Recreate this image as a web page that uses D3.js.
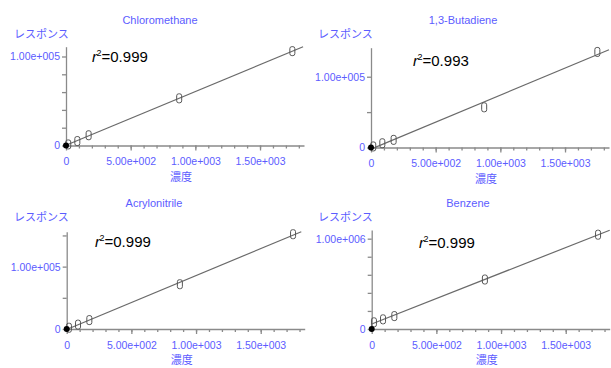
<!DOCTYPE html>
<html>
<head>
<meta charset="utf-8">
<script src="https://cdn.jsdelivr.net/npm/d3@7"></script>
<style>
  body { margin: 0; background: #fff; }
  svg { display: block; }
  .tick text, .lbl { font-family: "Liberation Sans", Arial, sans-serif; fill: #5c5cff; }
  .jp { font-family: "Noto Sans CJK JP", sans-serif; fill: #5c5cff; }
</style>
</head>
<body>
<div id="chart"></div>
<script>
// concentrations of the calibration standards
const conc = [17.5, 87.5, 175, 875, 1750];

// responses per compound
const compounds = ["Chloromethane", "1,3-Butadiene", "Acrylonitrile", "Benzene"];
const chloromethane = [1200, 5000, 11500, 53000, 106000];
const butadiene = [1500, 6000, 10800, 56800, 135000];
const acrylonitrile = [2000, 7000, 14300, 71800, 152000];
const benzene = [74000, 107000, 143000, 548000, 1044000];
const r2 = ["0.999", "0.993", "0.999", "0.999"];

// axis ticks
const xMajor = [0, 500, 1000, 1500];
const xTickLabels = ["0", "5.00e+002", "1.00e+003", "1.50e+003"];
const yLabelValues = [[0, 1e5], [0, 1e5], [0, 1e5], [0, 1e6]];
const yTickLabels = [["0", "1.00e+005"], ["0", "1.00e+005"], ["0", "1.00e+005"], ["0", "1.00e+006"]];
const yMinorStep = [2e4, 5e4, 5e4, 2e5];
const yMax = [1.11e5, 1.41e5, 1.56e5, 1.096e6];

const series = [chloromethane, butadiene, acrylonitrile, benzene];

// panel layout (origin, top of y axis, title/label spots)
const panels = [
  { ox: 66, oy: 145.5, top: 46.7, titleX: 160, titleY: 24, resX: 14, resY: 38, r2X: 92, r2Y: 62 },
  { ox: 371, oy: 147.5, top: 47.7, titleX: 463, titleY: 24, resX: 318, resY: 38, r2X: 413, r2Y: 66 },
  { ox: 66.7, oy: 329, top: 231.7, titleX: 154, titleY: 207, resX: 14, resY: 221, r2X: 95, r2Y: 247 },
  { ox: 371.7, oy: 329, top: 230, titleX: 468, titleY: 207, resX: 318, resY: 221, r2X: 419, r2Y: 248 }
];

const width = 611, height = 368;
const xWidth = 238, xMax = 1840;
const axisGray = "#8a8a8a";

const svg = d3.select("#chart").append("svg")
  .attr("width", width)
  .attr("height", height);

panels.forEach((p, i) => {
  const g = svg.append("g");
  const vals = series[i];

  const x = d3.scaleLinear().domain([0, xMax]).range([p.ox, p.ox + xWidth]);
  const y = d3.scaleLinear().domain([0, yMax[i]]).range([p.oy, p.top]);

  // x axis: minor then major ticks
  const xMinor = d3.range(100, xMax, 100);
  g.append("g")
    .attr("transform", `translate(0,${p.oy})`)
    .call(d3.axisBottom(x).tickValues(xMinor).tickSize(3).tickSizeOuter(0).tickFormat(""))
    .call(a => a.selectAll("line,path").attr("stroke", axisGray).attr("stroke-width", 1.3));

  g.append("g")
    .attr("transform", `translate(0,${p.oy})`)
    .call(d3.axisBottom(x).tickValues(xMajor).tickSize(5).tickSizeOuter(0)
      .tickFormat((d, k) => xTickLabels[k]))
    .call(a => a.select(".domain").remove())
    .call(a => a.selectAll("line").attr("stroke", axisGray).attr("stroke-width", 1.3))
    .call(a => a.selectAll("text").attr("y", 16).attr("dy", "0.35em").attr("font-size", 10.5));

  // y axis
  const yTicks = d3.range(0, yMax[i], yMinorStep[i]);
  g.append("g")
    .attr("transform", `translate(${p.ox},0)`)
    .call(d3.axisLeft(y).tickValues(yTicks).tickSize(4).tickSizeOuter(0)
      .tickFormat(d => {
        const k = yLabelValues[i].findIndex(v => Math.abs(v - d) < 1);
        return k >= 0 ? yTickLabels[i][k] : "";
      }))
    .call(a => a.selectAll("line,path").attr("stroke", axisGray).attr("stroke-width", 1.3))
    .call(a => a.selectAll("text").attr("x", -6).attr("font-size", 10.5));

  // regression line
  const mx = d3.mean(conc), my = d3.mean(vals);
  const slope = d3.sum(conc, (c, k) => (c - mx) * (vals[k] - my)) / d3.sum(conc, c => (c - mx) ** 2);
  const icpt = my - slope * mx;
  let xEnd = xMax;
  if (icpt + slope * xEnd > yMax[i]) xEnd = (yMax[i] - icpt) / slope;
  const line = d3.line().x(d => x(d)).y(d => y(icpt + slope * d));
  g.append("path")
    .attr("d", line([0, xEnd]))
    .attr("fill", "none")
    .attr("stroke", "#6a6a6a")
    .attr("stroke-width", 1.2);

  // points
  g.selectAll("rect.pt")
    .data(conc)
    .join("rect")
    .attr("class", "pt")
    .attr("x", d => x(d) - 2.5)
    .attr("y", (d, k) => y(vals[k]) - 4.5)
    .attr("width", 5)
    .attr("height", 9)
    .attr("rx", 2)
    .attr("fill", "none")
    .attr("stroke", "#555")
    .attr("stroke-width", 1);

  // origin marker
  g.append("circle")
    .attr("cx", x(0))
    .attr("cy", y(0))
    .attr("r", 3)
    .attr("fill", "#000");

  // texts
  g.append("text").attr("class", "lbl")
    .attr("x", p.titleX).attr("y", p.titleY)
    .attr("text-anchor", "middle").attr("font-size", 11)
    .text(compounds[i]);

  g.append("text").attr("class", "jp")
    .attr("x", p.resX).attr("y", p.resY)
    .attr("font-size", 11)
    .text("レスポンス");

  g.append("text").attr("class", "jp")
    .attr("x", p.ox + 115).attr("y", p.oy + 35)
    .attr("text-anchor", "middle").attr("font-size", 11)
    .text("濃度");

  const rt = g.append("text")
    .attr("x", p.r2X).attr("y", p.r2Y)
    .attr("font-family", "Liberation Sans, Arial, sans-serif")
    .attr("font-size", 15)
    .attr("fill", "#000");
  rt.append("tspan").attr("font-style", "italic").text("r");
  rt.append("tspan").attr("font-size", 9).attr("dy", -6).attr("dx", -0.5).text("2");
  rt.append("tspan").attr("dy", 6).text("=" + r2[i]);
});
</script>
</body>
</html>
